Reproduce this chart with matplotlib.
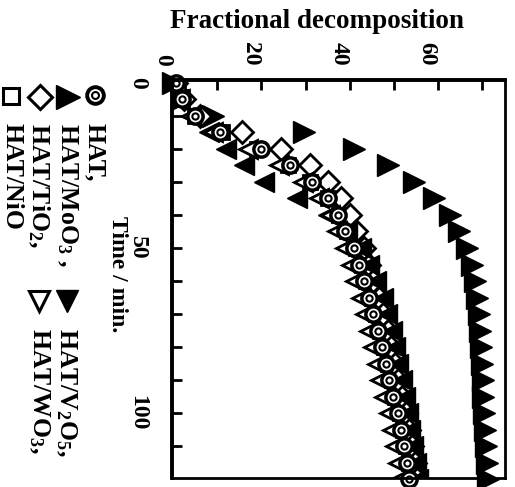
import numpy as np
import matplotlib.pyplot as plt
import matplotlib.transforms as mtransforms

plt.rcParams['font.family'] = ['Liberation Serif', 'DejaVu Serif']
plt.rcParams['font.weight'] = 'bold'
plt.rcParams['mathtext.default'] = 'regular'

# time / min (every 5 min)
time = [0, 5, 10, 15, 20, 25, 30, 35, 40, 45, 50, 55, 60,
        65, 70, 75, 80, 85, 90, 95, 100, 105, 110, 115, 120]

# fractional decomposition for each sample
hat = [0.5, 2, 5, 10.5, 20, 26.5, 31.5, 35, 37.3, 39, 41, 42.2, 43.2,
       44.5, 45.4, 46.5, 47.3, 48.2, 49, 49.8, 51, 51.6, 52.3, 53, 53.5]
hat_moo3 = [0, 2, 9, 29.7, 41, 48.7, 54.5, 59.2, 62.8, 64.8, 66.6, 67.8, 68.5,
            69, 69.3, 69.5, 69.8, 70, 70.2, 70.3, 70.5, 70.7, 71, 71.2, 71.4]
hat_v2o5 = [0, 1, 4, 8, 12, 16, 20.5, 28, 35, 39.5, 42.5, 44.5, 46,
            47.5, 48.5, 49.5, 50.3, 51, 51.8, 52.5, 53.2, 53.8, 54.4, 55, 55.5]
hat_tio2 = [0.5, 2.5, 6, 15.5, 24.5, 31, 35, 38, 40, 41.5, 43.2, 44.4, 45.4,
            46.7, 47.6, 48.6, 49.4, 50.3, 51, 51.8, 52.9, 53.5, 54.1, 54.8, 55.2]
hat_wo3 = [0.5, 1.5, 4, 9, 17, 24, 29.5, 33, 35.5, 37.2, 39, 40.3, 41.2,
           42.5, 43.4, 44.4, 45.2, 46.1, 47, 47.8, 48.9, 49.5, 50.2, 50.9, 51.4]
hat_nio = [0.3, 1.8, 5, 11, 19, 26, 31, 35, 37.5, 39.5, 41.5, 42.8, 43.8,
           45, 46, 47, 47.8, 48.7, 49.5, 50.3, 51.4, 52, 52.7, 53.4, 53.9]

frac_ticks = [0, 20, 40, 60]
time_ticks = [0, 50, 100]

fig = plt.figure(figsize=(5.15, 4.87), dpi=100)
ax = fig.add_axes([0.334, 0.018, 0.647, 0.818])

k = 'black'
ax.plot(hat_moo3, time, '>', ms=16, color=k, ls='none', clip_on=False)
ax.plot(hat_nio, time, 's', ms=10, mfc='white', mec=k, mew=2, ls='none')
ax.plot(hat_tio2, time, 'D', ms=11, mfc='white', mec=k, mew=2, ls='none')
ax.plot(hat_v2o5, time, '<', ms=15, color=k, ls='none')
ax.plot(hat_wo3, time, '<', ms=13, mfc='white', mec=k, mew=2, ls='none')
ax.plot(hat, time, 'o', ms=11, mfc='white', mec=k, mew=2.5, ls='none', clip_on=False)
ax.plot(hat, time, 'o', ms=4.5, mfc='white', mec=k, mew=1.5, ls='none', clip_on=False)

ax.set_xlim(-0.3, 75.3)
ax.set_ylim(119.7, -0.9)

ax.xaxis.tick_top()
ax.set_xticks(frac_ticks)
ax.set_xticklabels([str(v) for v in frac_ticks], rotation=-90, fontsize=17)
ax.set_xticks(np.arange(10, 80, 20), minor=True)
ax.set_yticks(time_ticks)
ax.set_yticklabels([str(v) for v in time_ticks], rotation=-90, fontsize=17, va='center')
ax.set_yticks(np.arange(10, 120, 10), minor=True)
ax.tick_params(which='both', direction='in', length=7, width=2,
               top=True, bottom=False, left=True, right=False)
ax.tick_params(axis='x', pad=10)
ax.tick_params(axis='y', pad=17)
shift = mtransforms.ScaledTranslation(-11 / 100, 0, fig.dpi_scale_trans)
for lbl in ax.get_xticklabels():
    lbl.set_transform(lbl.get_transform() + shift)

for s in ['left', 'top']:
    ax.spines[s].set_linewidth(2.8)
for s in ['right', 'bottom']:
    ax.spines[s].set_linewidth(2)

W, H = 515, 487
def fx(px):
    return px / W
def fy(py):
    return 1 - py / H

fig.text(fx(317), fy(22), 'Fractional decomposition', fontsize=19.5,
         ha='center', va='center')
fig.text(fx(117), fy(216), 'Time / min.', fontsize=17, rotation=-90,
         ha='center', va='top')

# legend drawn as rotated text
tf = fig.transFigure
def mark(px, py, **kw):
    ax.plot([fx(px)], [fy(py)], transform=tf, clip_on=False, ls='none', **kw)

mark(95, 95, marker='o', ms=12, mfc='white', mec=k, mew=2.8)
mark(95, 95, marker='o', ms=5, mfc='white', mec=k, mew=1.5)
mark(68, 97, marker='>', ms=17, color=k)
mark(40, 97, marker='D', ms=12, mfc='white', mec=k, mew=2.2)
mark(11, 96, marker='s', ms=11, mfc='white', mec=k, mew=2.2)
mark(67, 301, marker='v', ms=16, color=k)
mark(39, 301, marker='v', ms=15, mfc='white', mec=k, mew=2.2)

leg = [(95, 123, 'HAT,'), (67, 123, 'HAT/MoO$_3$ ,'), (39, 123, 'HAT/TiO$_2$,'),
       (12, 123, 'HAT/NiO'), (66, 328, 'HAT/V$_2$O$_5$,'), (39, 328, 'HAT/WO$_3$,')]
for px, py, s in leg:
    fig.text(fx(px), fy(py), s, fontsize=18.5, rotation=-90, ha='center', va='top')

fig.savefig('out.png', dpi=100)
